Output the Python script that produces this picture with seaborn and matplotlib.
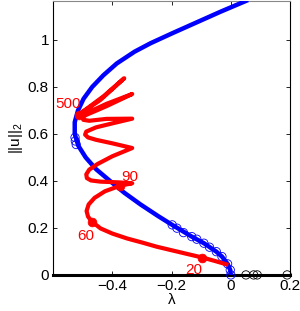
import numpy as np
import pandas as pd
import seaborn as sns
import matplotlib.pyplot as plt

# blue branch (lambda, ||u||_2)
lam_blue = [0.0, -0.002, -0.011, -0.030, -0.049, -0.091, -0.132, -0.198, -0.245, -0.305,
            -0.360, -0.408, -0.455, -0.490, -0.515, -0.527, -0.527, -0.516, -0.497, -0.468,
            -0.430, -0.385, -0.325, -0.271, -0.195, -0.115, -0.035, 0.051]
u_blue = [0.0, 0.021, 0.047, 0.078, 0.099, 0.135, 0.163, 0.213, 0.250, 0.300,
          0.350, 0.400, 0.450, 0.500, 0.550, 0.600, 0.650, 0.700, 0.750, 0.800,
          0.850, 0.900, 0.950, 0.986, 1.030, 1.075, 1.120, 1.166]

# blue open circles on the branch
lam_bc = [0.0, -0.002, -0.011, -0.030, -0.049, -0.072, -0.091, -0.115, -0.132, -0.160, -0.182, -0.198,
          -0.522, -0.525, -0.526]
u_bc = [0.0, 0.021, 0.047, 0.078, 0.099, 0.118, 0.135, 0.152, 0.163, 0.180, 0.199, 0.213,
        0.555, 0.570, 0.585]

# trivial branch with black circles
lam_triv = [-0.6, 0.2]
u_triv = [0.0, 0.0]
lam_kc = [0.051, 0.077, 0.089, 0.190]
u_kc = [0.0, 0.0, 0.0, 0.0]

# red continuation path
lam_red = [-0.015, -0.050, -0.096, -0.150, -0.200, -0.250, -0.300, -0.350, -0.400, -0.440, -0.469,
           -0.482, -0.487, -0.480, -0.460, -0.425, -0.373, -0.333,
           -0.380, -0.440, -0.472, -0.486, -0.488, -0.478, -0.450, -0.400, -0.333,
           -0.400, -0.455, -0.482, -0.492, -0.488, -0.455, -0.400, -0.333,
           -0.420, -0.478, -0.498, -0.500, -0.490, -0.420, -0.333,
           -0.420, -0.485, -0.503, -0.502, -0.490, -0.430, -0.360,
           -0.440, -0.500, -0.514]
u_red = [0.045, 0.058, 0.074, 0.090, 0.105, 0.120, 0.138, 0.155, 0.176, 0.198, 0.227,
         0.248, 0.272, 0.300, 0.328, 0.356, 0.380, 0.390,
         0.394, 0.397, 0.402, 0.412, 0.428, 0.448, 0.472, 0.505, 0.540,
         0.560, 0.575, 0.585, 0.597, 0.610, 0.628, 0.645, 0.665,
         0.664, 0.656, 0.660, 0.670, 0.680, 0.718, 0.770,
         0.728, 0.690, 0.684, 0.694, 0.704, 0.760, 0.837,
         0.745, 0.693, 0.680]

# labelled steps on the red path
step_lab = ["20", "60", "90", "500"]
lam_step = [-0.096, -0.469, -0.373, -0.514]
u_step = [0.074, 0.227, 0.380, 0.680]

blue = pd.DataFrame({"lam": lam_blue, "u": u_blue})
red = pd.DataFrame({"lam": lam_red, "u": u_red})

plt.rcParams["font.family"] = ["Liberation Sans", "DejaVu Sans"]
plt.rcParams["mathtext.default"] = "regular"

fig = plt.figure(figsize=(3.0, 3.11), dpi=100)
ax = fig.add_axes([0.177, 0.116, 0.79, 0.881])

sns.lineplot(x=lam_triv, y=u_triv, color="black", linewidth=2.2, ax=ax, clip_on=False, zorder=2)
sns.lineplot(data=blue, x="lam", y="u", sort=False, estimator=None, color="blue",
             linewidth=3.2, ax=ax, zorder=3)
sns.scatterplot(x=lam_bc, y=u_bc, marker="o", s=36, facecolor="none", edgecolor="blue",
                linewidth=0.6, ax=ax, zorder=4, clip_on=False)
sns.scatterplot(x=lam_kc, y=u_kc, marker="o", s=36, facecolor="none", edgecolor="black",
                linewidth=0.6, ax=ax, zorder=4, clip_on=False)
sns.lineplot(data=red, x="lam", y="u", sort=False, estimator=None, color="red",
             linewidth=3.0, ax=ax, zorder=5)
sns.scatterplot(x=lam_step, y=u_step, color="red", s=40, edgecolor="red", ax=ax, zorder=6)

offs = [(-0.029, -0.053), (-0.021, -0.061), (0.031, 0.037), (-0.036, 0.048)]
for lab, lx, ly, (dx, dy) in zip(step_lab, lam_step, u_step, offs):
    ax.text(lx + dx, ly + dy, lab, color="red", fontsize=11, ha="center", va="center")

ax.set_xlim(-0.6, 0.2)
ax.set_ylim(0, 1.166)
ax.set_xticks([-0.4, -0.2, 0, 0.2])
ax.set_xticklabels(["\u22120.4", "\u22120.2", "0", "0.2"])
ax.set_yticks([0, 0.2, 0.4, 0.6, 0.8, 1])
ax.set_yticklabels(["0", "0.2", "0.4", "0.6", "0.8", "1"])
ax.tick_params(direction="in", top=True, right=True, length=3, width=0.6, labelsize=11, pad=3)
for s in ax.spines.values():
    s.set_linewidth(0.8)
ax.spines["top"].set_color("#888888")
ax.set_xlabel("\u03bb", fontsize=11, labelpad=0)
ax.set_ylabel("||u||$_2$", fontsize=11, labelpad=2)

fig.savefig("out.png", dpi=100)
